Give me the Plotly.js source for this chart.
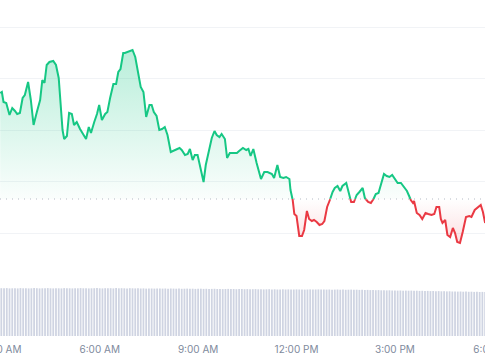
<!DOCTYPE html>
<html>
<head>
<meta charset="utf-8">
<script src="https://cdn.plot.ly/plotly-3.0.1.min.js"></script>
<style>
html,body{margin:0;padding:0;overflow:hidden;background:#fff;width:485px;height:360px;}
#chart{width:530px;height:360px;}
</style>
</head>
<body>
<div id="chart"></div>
<script>
// Time of each price sample, minutes after midnight
const minutes = [178,181,184,189,195,200,205,209,214,219,223,229,234,239,245,251,255,259,263,268,
275,280,285,289,292,295,300,304,309,313,318,324,330,335,340,344,350,355,359,364,
370,374,379,385,390,394,398,403,406,412,420,425,431,435,440,445,451,455,459,464,
469,474,479,484,490,498,506,510,516,521,525,530,534,539,544,550,554,561,565,570,
574,579,583,589,593,598,604,611,615,622,628,632,636,641,647,655,661,667,675,679,
685,690,696,701,707,709,713,716,720,725,730,734,739,743,748,752,757,762,767,771,
776,781,786,790,795,800,804,811,815,820,825,830,835,841,845,851,856,860,865,870,
874,880,885,890,895,900,905,911,917,922,926,929,933,935,940,945,950,956,961,967,
972,976,981,984,987,992,996,1001,1006,1010,1014,1019,1024,1030,1036,1040,1046,1053,1057,1061,1065];
// Price (chart units)
const price = [192,193,183,182,170,177,174,171,172,187,190,203,185,160,173,185,205,202,220,223,
224,220,207,178,155,146,149,172,171,160,163,156,150,146,158,152,163,171,180,165,
171,173,187,201,201,213,216,232,232,233,235,228,208,198,193,168,180,180,173,169,
155,156,158,150,133,135,137,135,130,131,136,125,130,130,118,103,120,138,147,154,
150,148,151,146,127,132,132,132,134,137,135,136,129,136,122,106,113,113,111,107,
120,108,107,108,106,95,85,71,69,49,49,55,74,66,64,65,63,60,61,64,
78,85,93,97,99,94,99,102,93,83,83,90,93,97,87,83,82,85,91,92,
100,111,109,108,110,106,102,102,98,94,89,85,82,84,72,70,66,72,71,70,
71,78,78,66,62,65,50,48,57,52,43,42,53,68,69,68,75,78,80,73,62];
const openPrice = 86;
// Volume bars, one every 5 minutes from 2:55 AM
const volStartMin = 175;
const volStepMin = 5;
const volume = [
47.6,47.8,47.7,47.9,47.6,47.7,47.8,47.6,47.9,47.7,
47.8,47.6,47.7,47.9,47.8,47.6,47.7,47.8,47.9,47.7,
47.6,47.8,47.7,47.6,47.9,47.8,47.7,47.6,47.8,47.7,
47.9,47.7,47.8,47.6,47.7,47.8,47.9,47.7,47.6,47.8,
47.7,47.8,47.6,47.9,47.7,47.8,47.7,47.6,47.8,47.7,
47.6,47.7,47.5,47.6,47.4,47.6,47.5,47.4,47.6,47.5,
47.4,47.5,47.3,47.5,47.4,47.3,47.4,47.2,47.3,47.4,
47.2,47.3,47.1,47.2,47.3,47.1,47.2,47.0,47.1,47.2,
47.0,47.1,46.9,47.0,47.1,46.9,47.0,46.8,46.9,47.0,
46.8,46.9,46.7,46.8,46.9,46.7,46.8,46.6,46.7,46.8,
46.6,46.7,46.5,46.6,46.7,46.5,46.6,46.4,46.5,46.6,
46.5,46.6,46.4,46.5,46.6,46.4,46.5,46.6,46.4,46.5,
46.4,46.5,46.3,46.4,46.5,46.3,46.4,46.2,46.3,46.4,
46.2,46.3,46.1,46.2,46.0,46.1,45.9,46.0,45.8,45.9,
45.7,45.8,45.6,45.7,45.5,45.6,45.4,45.5,45.3,45.4,
45.3,45.4,45.2,45.3,45.1,45.2,45.0,45.1,44.9,45.0,
44.8,44.9,44.7,44.8,44.6,44.7,44.5,44.6,44.4,44.5,
44.3,44.4,44.2,44.3,44.1,44.2,44.0,44.1,44.0];

const GREEN = '#16c784', RED = '#ea3943';
function pad(n){return (n<10?'0':'')+n;}
function t(m){
  const s = Math.round(m*60);
  const h = Math.floor(s/3600), mi = Math.floor((s%3600)/60), se = s%60;
  return '2024-01-01 ' + pad(h) + ':' + pad(mi) + ':' + pad(se);
}

// insert baseline crossings
const am = [], av = [];
for (let i=0;i<price.length;i++){
  am.push(minutes[i]); av.push(price[i]);
  if (i < price.length-1){
    const a = price[i]-openPrice, b = price[i+1]-openPrice;
    if (a*b < 0){
      const f = (openPrice-price[i])/(price[i+1]-price[i]);
      am.push(minutes[i] + f*(minutes[i+1]-minutes[i]));
      av.push(openPrice);
    }
  }
}
const ax = am.map(t);
const baseY = av.map(()=>openPrice);
const upFill = av.map(v=>Math.max(v,openPrice));
const dnFill = av.map(v=>Math.min(v,openPrice));
const upLine = av.map(v=> v>=openPrice ? v : null);
const dnLine = av.map(v=> v<=openPrice ? v : null);
const maxV = Math.max(...price), minV = Math.min(...price);

const volX = volume.map((_,i)=>t(volStartMin + i*volStepMin));

const traces = [
  {type:'bar', x:volX, y:volume, yaxis:'y2', marker:{color:'#cfd4e2', line:{width:0}}, hoverinfo:'skip'},
  {x:ax, y:baseY, mode:'lines', line:{width:0, color:'rgba(0,0,0,0)'}, hoverinfo:'skip'},
  {x:ax, y:upFill, mode:'lines', line:{width:0, color:'rgba(0,0,0,0)'}, fill:'tonexty',
   fillcolor:'rgba(22,199,132,0.12)',
   fillgradient:{type:'vertical', start:openPrice, stop:maxV,
     colorscale:[[0,'rgba(22,199,132,0.02)'],[1,'rgba(22,199,132,0.30)']]}, hoverinfo:'skip'},
  {x:ax, y:baseY, mode:'lines', line:{width:0, color:'rgba(0,0,0,0)'}, hoverinfo:'skip'},
  {x:ax, y:dnFill, mode:'lines', line:{width:0, color:'rgba(0,0,0,0)'}, fill:'tonexty',
   fillcolor:'rgba(234,57,67,0.08)',
   fillgradient:{type:'vertical', start:minV, stop:openPrice,
     colorscale:[[0,'rgba(234,57,67,0.16)'],[1,'rgba(234,57,67,0.0)']]}, hoverinfo:'skip'},
  {x:ax, y:upLine, mode:'lines', line:{width:2, color:GREEN}, connectgaps:false},
  {x:ax, y:dnLine, mode:'lines', line:{width:2, color:RED}, connectgaps:false}
];

const layout = {
  width:530, height:360,
  margin:{l:0,r:0,t:0,b:24},
  paper_bgcolor:'#ffffff', plot_bgcolor:'#ffffff',
  showlegend:false,
  bargap:0.35,
  xaxis:{type:'date', range:[t(177.6), t(1147.1)], anchor:'y2',
    showgrid:false, zeroline:false, showline:false,
    tickformat:'%-I:%M %p', tick0:'2024-01-01 03:00:00', dtick:10800000,
    ticks:'outside', ticklen:4, tickcolor:'rgba(0,0,0,0)',
    ticklabeloverflow:'allow',
    tickfont:{family:'Inter, sans-serif', size:10, color:'#808a9d'}},
  yaxis:{domain:[0.1518,1], range:[0,285], showticklabels:false,
    showgrid:true, gridcolor:'#f1f3f6', gridwidth:1, tick0:0, dtick:51.6, zeroline:false, ticks:''},
  yaxis2:{domain:[0,0.1518], range:[0,51], showgrid:false, showticklabels:false, zeroline:false, ticks:''},
  shapes:[{type:'line', xref:'paper', x0:0, x1:1, yref:'y', y0:openPrice, y1:openPrice,
    line:{color:'#b4bac4', width:1, dash:'1px,5px'}, layer:'above'}]
};

Plotly.newPlot('chart', traces, layout, {displayModeBar:false, staticPlot:true});
</script>
</body>
</html>
